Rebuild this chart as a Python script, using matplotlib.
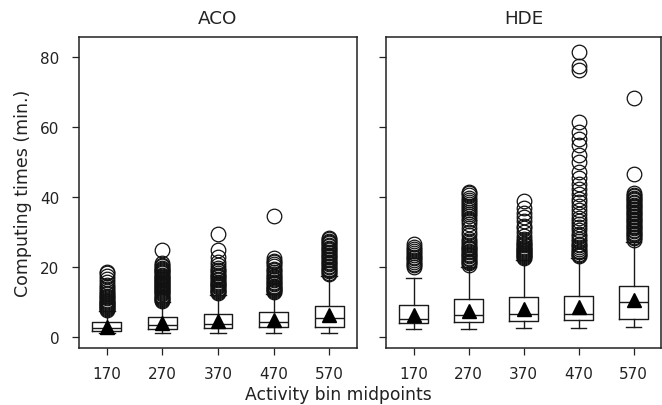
import matplotlib
matplotlib.use("Agg")
import matplotlib.pyplot as plt

# bin labels and panel names
bins = ["170", "270", "370", "470", "570"]
panels = ["ACO", "HDE"]

# box statistics: q1, median, q3, whisker low/high, mean
aco_q1 = [1.7, 2.1, 2.6, 2.8, 2.9]
aco_med = [2.5, 3.4, 3.7, 4.2, 5.3]
aco_q3 = [4.1, 5.8, 6.6, 7.2, 8.9]
aco_lo = [1.1, 1.0, 1.1, 1.05, 1.05]
aco_hi = [7.3, 9.9, 12.0, 12.2, 17.4]
aco_mean = [2.9, 3.9, 4.4, 4.8, 6.2]

hde_q1 = [3.9, 4.2, 4.5, 4.7, 5.1]
hde_med = [5.0, 6.3, 6.6, 6.6, 9.9]
hde_q3 = [9.2, 10.7, 11.5, 11.8, 14.4]
hde_lo = [2.1, 2.3, 2.6, 2.6, 2.9]
hde_hi = [16.8, 20.0, 22.0, 22.4, 27.2]
hde_mean = [6.1, 7.5, 8.0, 8.5, 10.4]

# outliers
aco_fliers = [
    [7.6, 7.9, 8.2, 8.5, 8.8, 9.1, 9.4, 9.7, 10.0, 10.3, 10.6, 11.0, 11.4, 11.8,
     12.2, 12.6, 13.1, 13.6, 14.2, 14.8, 15.6, 16.4, 17.3, 18.1, 18.6],
    [10.3, 10.6, 10.9, 11.2, 11.5, 11.8, 12.1, 12.4, 12.7, 13.0, 13.3, 13.6, 13.9,
     14.2, 14.5, 14.8, 15.1, 15.4, 15.7, 16.0, 16.3, 16.6, 16.9, 17.2, 17.5, 17.8,
     18.1, 18.4, 18.7, 19.0, 19.4, 19.8, 20.2, 20.6, 21.2, 24.9],
    [12.6, 12.9, 13.2, 13.5, 13.8, 14.1, 14.4, 14.7, 15.0, 15.4, 15.8, 16.2, 16.6,
     17.0, 17.4, 17.8, 18.2, 18.7, 19.2, 19.8, 20.4, 21.3, 22.7, 24.8, 29.5],
    [12.7, 13.0, 13.3, 13.6, 13.9, 14.2, 14.6, 15.0, 15.4, 15.8, 16.2, 16.6, 17.0,
     17.5, 18.0, 18.5, 19.0, 19.5, 20.1, 20.7, 21.3, 21.8, 22.4, 34.4],
    [17.9, 18.3, 18.7, 19.1, 19.5, 19.9, 20.3, 20.7, 21.1, 21.5, 21.9, 22.3, 22.7,
     23.1, 23.5, 23.9, 24.3, 24.7, 25.1, 25.5, 25.9, 26.3, 26.7, 27.1, 27.5, 27.9, 28.3],
]
hde_fliers = [
    [19.9, 20.4, 20.9, 21.4, 21.9, 22.4, 22.9, 23.4, 23.9, 24.4, 25.0, 25.7, 26.5],
    [20.6, 21.0, 21.4, 21.8, 22.2, 22.6, 23.0, 23.4, 23.8, 24.2, 24.6, 25.0, 25.4,
     25.8, 26.3, 26.8, 27.4, 28.1, 29.0, 30.1, 31.2, 32.3, 33.2, 33.8, 34.4, 35.0,
     35.6, 36.2, 36.8, 37.4, 38.0, 38.6, 39.2, 39.8, 40.4, 41.0, 41.5],
    [22.5, 22.8, 23.1, 23.4, 23.7, 24.0, 24.3, 24.6, 24.9, 25.2, 25.5, 25.8, 26.1,
     26.5, 26.9, 27.3, 28.0, 28.9, 30.0, 31.0, 31.8, 33.0, 34.2, 35.5, 36.8, 38.7],
    [23.0, 23.4, 23.8, 24.2, 24.6, 25.1, 25.6, 26.1, 26.6, 27.3, 28.0, 28.7, 29.4,
     30.4, 31.3, 32.2, 33.2, 34.1, 35.1, 36.3, 37.5, 38.5, 39.4, 40.9, 42.3, 43.7,
     45.4, 47.2, 49.9, 52.0, 54.7, 56.6, 58.5, 61.3, 76.4, 77.5, 81.5],
    [27.8, 28.2, 28.6, 29.0, 29.4, 29.8, 30.2, 30.6, 31.0, 31.4, 31.8, 32.2, 32.6,
     33.0, 33.4, 33.8, 34.2, 34.6, 35.0, 35.4, 35.8, 36.2, 36.6, 37.0, 37.4, 37.8,
     38.2, 38.6, 39.0, 39.4, 39.8, 40.2, 40.6, 41.1, 46.6, 68.3],
]


def make_stats(q1, med, q3, lo, hi, mean, fliers):
    out = []
    for i in range(len(q1)):
        out.append(dict(q1=q1[i], med=med[i], q3=q3[i], whislo=lo[i],
                        whishi=hi[i], mean=mean[i], fliers=fliers[i]))
    return out


stats = [
    make_stats(aco_q1, aco_med, aco_q3, aco_lo, aco_hi, aco_mean, aco_fliers),
    make_stats(hde_q1, hde_med, hde_q3, hde_lo, hde_hi, hde_mean, hde_fliers),
]

plt.rcParams['font.family'] = ['DejaVu Sans']
plt.rcParams['font.size'] = 11
txt = '#222222'

fig = plt.figure(figsize=(6.62, 4.06), dpi=100)
axes = [fig.add_axes([79/662, 57/406, 278/662, 311/406]),
        fig.add_axes([386/662, 57/406, 275/662, 311/406])]

line = dict(color='#1a1a1a', linewidth=1.0)
pos = list(range(1, len(bins) + 1))
for k, ax in enumerate(axes):
    ax.bxp(stats[k], positions=pos, widths=0.52, capwidths=0.28,
           showmeans=True, showfliers=True,
           boxprops=line, whiskerprops=line, capprops=line, medianprops=line,
           meanprops=dict(marker='^', markerfacecolor='black',
                          markeredgecolor='black', markersize=10.5),
           flierprops=dict(marker='o', markerfacecolor='none',
                           markeredgecolor='#111111', markersize=10.5,
                           markeredgewidth=0.9))
    ax.set_xlim(0.5, 5.5)
    ax.set_ylim(-3.2, 85.7)
    ax.set_xticks(pos)
    ax.set_xticklabels(bins)
    ax.set_yticks([0, 20, 40, 60, 80])
    ax.tick_params(direction='out', length=5, width=0.9, color='#222222',
                   labelcolor=txt)
    ax.tick_params(axis='y', pad=9)
    ax.tick_params(axis='x', pad=8)
    for s in ax.spines.values():
        s.set_linewidth(1.1)
        s.set_color('#222222')
    ax.set_title(panels[k], color=txt, pad=10)
    if k == 1:
        ax.set_yticklabels([])

axes[0].set_ylabel("Computing times (min.)", color=txt, fontsize=12.5,
                   labelpad=6)
fig.text(338/662, 11/406, "Activity bin midpoints", ha='center', va='center',
         color=txt, fontsize=12.3)

fig.savefig("out.png", dpi=100)
